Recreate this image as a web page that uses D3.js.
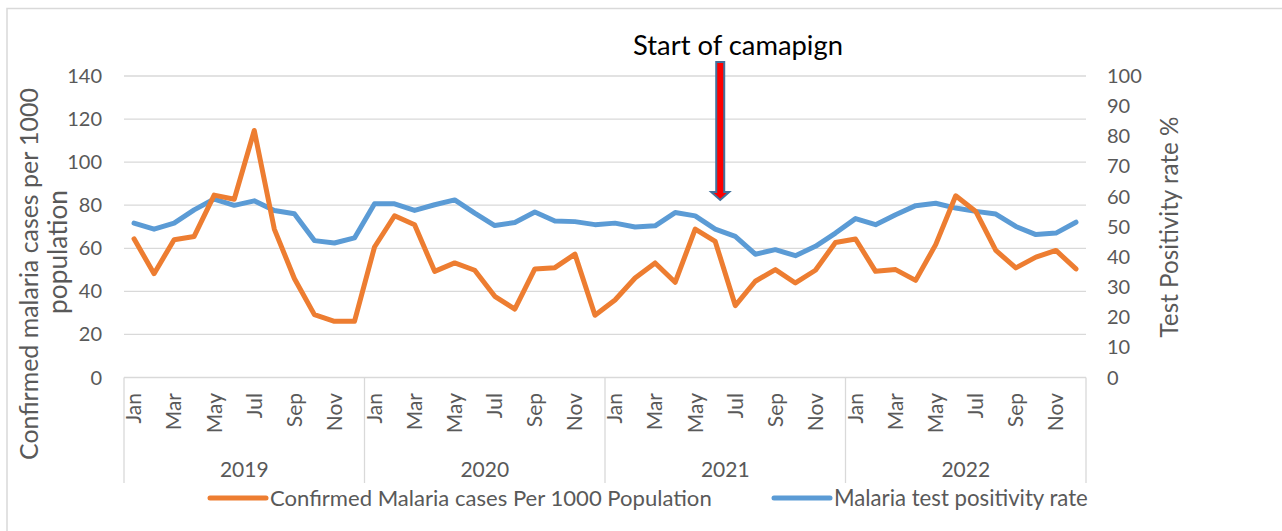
<!DOCTYPE html>
<html>
<head>
<meta charset="utf-8">
<script src="https://cdn.jsdelivr.net/npm/d3@7"></script>
<style>
  body { margin: 0; background: #fff; }
  svg text { font-family: Lato, "Open Sans", sans-serif; fill: #595959; }
</style>
</head>
<body>
<div id="chart"></div>
<script>
/* DATA */
const years = ["2019", "2020", "2021", "2022"];
const monthNames = ["Jan", "Feb", "Mar", "Apr", "May", "Jun", "Jul", "Aug", "Sep", "Oct", "Nov", "Dec"];

// confirmed malaria cases per 1000 population, Jan 2019 .. Dec 2022
const cases = [
  64.4, 48.2, 64.0, 65.5, 84.7, 82.8, 114.7, 68.9, 46.0, 29.2, 26.1, 26.1,
  60.6, 75.1, 70.9, 49.3, 53.2, 49.8, 37.7, 31.8, 50.4, 51.0, 57.3, 28.9,
  36.0, 46.2, 53.2, 44.2, 68.9, 63.2, 33.4, 44.7, 50.1, 43.9, 49.8, 62.7,
  64.3, 49.3, 50.1, 45.1, 61.7, 84.4, 77.1, 59.0, 50.9, 55.9, 59.0, 50.4
];
// malaria test positivity rate %
const tpr = [
  51.2, 49.2, 51.2, 55.6, 59.2, 57.1, 58.6, 55.4, 54.3, 45.4, 44.6, 46.3,
  57.6, 57.6, 55.4, 57.3, 58.9, 54.5, 50.4, 51.4, 54.9, 51.9, 51.7, 50.7,
  51.2, 49.9, 50.3, 54.7, 53.6, 49.2, 46.8, 40.9, 42.4, 40.4, 43.5, 47.9,
  52.7, 50.7, 54.0, 57.0, 57.8, 56.2, 55.1, 54.2, 50.1, 47.4, 47.9, 51.5
];
const leftTicks = [0, 20, 40, 60, 80, 100, 120, 140];
const rightTicks = [0, 10, 20, 30, 40, 50, 60, 70, 80, 90, 100];
const seriesNames = ["Confirmed Malaria cases Per 1000 Population", "Malaria test positivity rate"];
const campaignMonth = 29; // Jun 2021

/* LAYOUT */
const width = 1282, height = 531;
const plot = { left: 124, right: 1086, top: 76, bottom: 377.5 };
const orange = "#ED7D31", blue = "#5B9BD5", grid = "#d9d9d9";

const months = d3.range(years.length * 12);

const svg = d3.select("#chart").append("svg")
  .attr("width", width)
  .attr("height", height);

// chart border
svg.append("rect")
  .attr("x", 7).attr("y", 8.5)
  .attr("width", width + 10).attr("height", height + 10)
  .attr("fill", "none").attr("stroke", grid).attr("stroke-width", 1.5);

const x = d3.scaleBand().domain(months).range([plot.left, plot.right]);
const yL = d3.scaleLinear().domain([0, 140]).range([plot.bottom, plot.top]);
const yR = d3.scaleLinear().domain([0, 100]).range([plot.bottom, plot.top]);
const cx = i => x(i) + x.bandwidth() / 2;

// gridlines
svg.append("g").selectAll("line")
  .data(leftTicks)
  .join("line")
  .attr("x1", plot.left).attr("x2", plot.right)
  .attr("y1", d => yL(d)).attr("y2", d => yL(d))
  .attr("stroke", grid).attr("stroke-width", 1.3);

// left axis labels
svg.append("g").selectAll("text")
  .data(leftTicks)
  .join("text")
  .attr("x", 102).attr("y", d => yL(d))
  .attr("dy", "0.35em")
  .attr("text-anchor", "end")
  .style("font-size", "20px")
  .text(d => d);

// right axis labels
svg.append("g").selectAll("text")
  .data(rightTicks)
  .join("text")
  .attr("x", 1107).attr("y", d => yR(d))
  .attr("dy", "0.35em")
  .style("font-size", "20px")
  .text(d => d);

// category axis: month labels every other month
svg.append("g").selectAll("text")
  .data(months.filter(i => i % 2 === 0))
  .join("text")
  .attr("transform", i => `translate(${cx(i)},393) rotate(-90)`)
  .attr("dy", "0.35em")
  .attr("text-anchor", "end")
  .style("font-size", "21px")
  .text(i => monthNames[i % 12]);

// year group separators
const yearEdges = d3.range(years.length + 1).map(k => k === years.length ? plot.right : x(k * 12));
svg.append("g").selectAll("line")
  .data(yearEdges)
  .join("line")
  .attr("x1", d => d).attr("x2", d => d)
  .attr("y1", plot.bottom).attr("y2", 483)
  .attr("stroke", grid).attr("stroke-width", 1.3);

svg.append("g").selectAll("text")
  .data(years)
  .join("text")
  .attr("x", (d, k) => (yearEdges[k] + yearEdges[k + 1]) / 2)
  .attr("y", 477)
  .attr("text-anchor", "middle")
  .style("font-size", "21px")
  .text(d => d);

// fit a text element to a measured width
function fit(sel, target) {
  const w = sel.node().getComputedTextLength();
  const fs = parseFloat(sel.style("font-size"));
  sel.style("font-size", (fs * target / w) + "px");
  return sel;
}

// axis titles
fit(svg.append("text")
  .attr("transform", "translate(38,274) rotate(-90)")
  .attr("text-anchor", "middle")
  .style("font-size", "22px")
  .text("Confirmed malaria cases per 1000"), 372);
fit(svg.append("text")
  .attr("transform", "translate(67,252) rotate(-90)")
  .attr("text-anchor", "middle")
  .style("font-size", "22px")
  .text("population"), 124);
fit(svg.append("text")
  .attr("transform", "translate(1178,227) rotate(-90)")
  .attr("text-anchor", "middle")
  .style("font-size", "22px")
  .text("Test Positivity rate %"), 221);

// series lines
const lineL = d3.line().x((d, i) => cx(i)).y(d => yL(d));
const lineR = d3.line().x((d, i) => cx(i)).y(d => yR(d));

svg.append("path")
  .datum(tpr)
  .attr("d", lineR)
  .attr("fill", "none").attr("stroke", blue)
  .attr("stroke-width", 5).attr("stroke-linejoin", "round").attr("stroke-linecap", "round");

svg.append("path")
  .datum(cases)
  .attr("d", lineL)
  .attr("fill", "none").attr("stroke", orange)
  .attr("stroke-width", 5).attr("stroke-linejoin", "round").attr("stroke-linecap", "round");

// campaign annotation
const ax = cx(campaignMonth) + 5;
svg.append("path")
  .attr("d", `M${ax - 4},62 L${ax + 4},62 L${ax + 4},192 L${ax + 9},192 L${ax},200 L${ax - 9},192 L${ax - 4},192 Z`)
  .attr("fill", "#ff0000")
  .attr("stroke", "#41719c")
  .attr("stroke-width", 2);

fit(svg.append("text")
  .attr("x", 738).attr("y", 55)
  .attr("text-anchor", "middle")
  .style("fill", "#000")
  .style("font-size", "26px")
  .text("Start of camapign"), 210);

// legend
const legend = [
  { name: seriesNames[0], color: orange, x: 210, w: 442 },
  { name: seriesNames[1], color: blue, x: 774, w: 254 }
];
legend.forEach(d => {
  svg.append("line")
    .attr("x1", d.x).attr("x2", d.x + 56)
    .attr("y1", 498).attr("y2", 498)
    .attr("stroke", d.color).attr("stroke-width", 5).attr("stroke-linecap", "round");
  fit(svg.append("text")
    .attr("x", d.x + 60).attr("y", 498)
    .attr("dy", "0.35em")
    .style("font-size", "19px")
    .text(d.name), d.w);
});
</script>
</body>
</html>
